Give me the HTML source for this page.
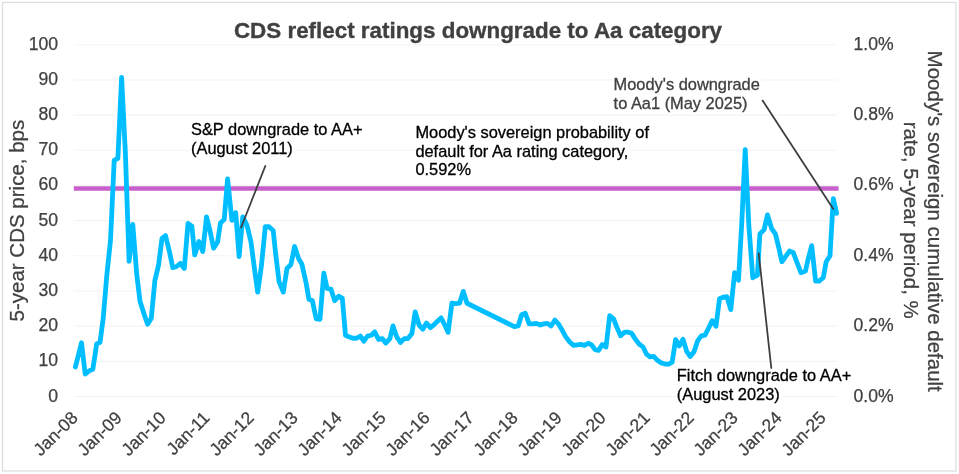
<!DOCTYPE html>
<html><head><meta charset="utf-8"><title>CDS reflect ratings downgrade to Aa category</title>
<style>
html,body{margin:0;padding:0;background:#fff;}
body{width:959px;height:474px;overflow:hidden;}
svg{display:block;font-family:"Liberation Sans",sans-serif;}
.g line{stroke:#f4f4f4;stroke-width:1.1;}
.t{font-size:17.6px;fill:#404040;stroke:#404040;stroke-width:0.25;}
.a{font-size:16.4px;fill:#000;stroke:#000;stroke-width:0.3;}
.ax{font-size:20.5px;fill:#404040;stroke:#404040;stroke-width:0.25;}
</style></head><body>
<svg width="959" height="474" viewBox="0 0 959 474">
<rect x="0" y="0" width="959" height="474" fill="#fff"/>
<rect x="2.5" y="2.5" width="953.5" height="468.5" fill="none" stroke="#dfdfdf" stroke-width="1.3"/>
<text x="478" y="37.8" text-anchor="middle" font-size="22.4" font-weight="bold" fill="#404040" stroke="#404040" stroke-width="0.35">CDS reflect ratings downgrade to Aa category</text>
<g class="g"><line x1="74" x2="837" y1="396.50" y2="396.50"/><line x1="74" x2="837" y1="361.33" y2="361.33"/><line x1="74" x2="837" y1="326.16" y2="326.16"/><line x1="74" x2="837" y1="290.99" y2="290.99"/><line x1="74" x2="837" y1="255.82" y2="255.82"/><line x1="74" x2="837" y1="220.65" y2="220.65"/><line x1="74" x2="837" y1="185.48" y2="185.48"/><line x1="74" x2="837" y1="150.31" y2="150.31"/><line x1="74" x2="837" y1="115.14" y2="115.14"/><line x1="74" x2="837" y1="79.97" y2="79.97"/><line x1="74" x2="837" y1="44.80" y2="44.80"/></g>
<g class="t"><text x="58" y="401.50" text-anchor="end">0</text><text x="58" y="366.33" text-anchor="end">10</text><text x="58" y="331.16" text-anchor="end">20</text><text x="58" y="295.99" text-anchor="end">30</text><text x="58" y="260.82" text-anchor="end">40</text><text x="58" y="225.65" text-anchor="end">50</text><text x="58" y="190.48" text-anchor="end">60</text><text x="58" y="155.31" text-anchor="end">70</text><text x="58" y="120.14" text-anchor="end">80</text><text x="58" y="84.97" text-anchor="end">90</text><text x="58" y="49.80" text-anchor="end">100</text></g>
<g class="t"><text x="853.5" y="401.50">0.0%</text><text x="853.5" y="331.16">0.2%</text><text x="853.5" y="260.82">0.4%</text><text x="853.5" y="190.48">0.6%</text><text x="853.5" y="120.14">0.8%</text><text x="853.5" y="49.80">1.0%</text></g>
<g class="t"><text transform="translate(78.8,418.8) rotate(-45)" text-anchor="end">Jan-08</text><text transform="translate(122.8,418.8) rotate(-45)" text-anchor="end">Jan-09</text><text transform="translate(166.8,418.8) rotate(-45)" text-anchor="end">Jan-10</text><text transform="translate(210.8,418.8) rotate(-45)" text-anchor="end">Jan-11</text><text transform="translate(254.8,418.8) rotate(-45)" text-anchor="end">Jan-12</text><text transform="translate(298.8,418.8) rotate(-45)" text-anchor="end">Jan-13</text><text transform="translate(342.8,418.8) rotate(-45)" text-anchor="end">Jan-14</text><text transform="translate(386.8,418.8) rotate(-45)" text-anchor="end">Jan-15</text><text transform="translate(430.8,418.8) rotate(-45)" text-anchor="end">Jan-16</text><text transform="translate(474.8,418.8) rotate(-45)" text-anchor="end">Jan-17</text><text transform="translate(518.8,418.8) rotate(-45)" text-anchor="end">Jan-18</text><text transform="translate(562.8,418.8) rotate(-45)" text-anchor="end">Jan-19</text><text transform="translate(606.8,418.8) rotate(-45)" text-anchor="end">Jan-20</text><text transform="translate(650.8,418.8) rotate(-45)" text-anchor="end">Jan-21</text><text transform="translate(694.8,418.8) rotate(-45)" text-anchor="end">Jan-22</text><text transform="translate(738.8,418.8) rotate(-45)" text-anchor="end">Jan-23</text><text transform="translate(782.8,418.8) rotate(-45)" text-anchor="end">Jan-24</text><text transform="translate(826.8,418.8) rotate(-45)" text-anchor="end">Jan-25</text></g>
<text class="ax" transform="translate(24.4,220.6) rotate(-90)" text-anchor="middle">5-year CDS price, bps</text>
<text class="ax" transform="translate(928.4,221.2) rotate(90)" text-anchor="middle">Moody's sovereign cumulative default</text>
<text class="ax" transform="translate(904.3,220.2) rotate(90)" text-anchor="middle">rate, 5-year period, %</text>
<line x1="73.8" x2="838.6" y1="188.5" y2="188.5" stroke="#c860cb" stroke-width="4.5"/>
<polyline transform="translate(0,0.35)" fill="none" stroke="#00beff" stroke-width="4.8" stroke-linejoin="round" stroke-linecap="round" points="75.4,366.6 77.6,358.0 81.5,342.4 85.2,373.7 89.9,370.1 92.8,369.0 96.7,343.6 100.0,342.0 103.2,318.0 106.8,275.0 110.5,240.0 114.2,160.0 117.9,158.0 121.6,77.0 125.4,153.0 129.1,261.0 132.8,224.0 136.7,273.8 140.0,300.8 144.3,314.3 147.6,324.0 151.3,318.0 154.9,280.0 158.5,265.0 162.0,238.0 165.5,235.2 169.4,251.2 172.8,267.3 176.2,266.4 180.4,263.0 184.3,268.1 188.0,223.0 191.9,225.9 194.7,254.6 198.9,241.1 202.8,251.2 206.5,216.5 209.9,230.1 213.6,247.8 217.5,241.9 220.5,222.6 224.2,219.0 227.6,178.6 231.9,220.0 235.7,212.3 239.1,256.3 242.8,216.5 247.0,225.0 250.9,241.1 254.3,267.3 257.7,291.7 261.4,265.6 265.3,226.4 269.0,226.4 273.2,230.1 275.7,253.8 279.1,281.6 283.3,291.7 287.0,268.1 290.9,264.2 294.6,246.2 298.5,258.0 301.9,263.9 306.0,282.1 308.9,298.9 312.3,300.1 316.2,318.4 320.0,318.9 323.8,272.8 327.1,288.0 331.0,288.8 334.7,300.3 338.6,295.9 342.3,297.8 345.5,334.9 348.9,336.5 352.8,337.9 356.5,337.9 360.4,335.7 363.8,340.8 367.5,335.7 371.4,334.9 374.7,331.5 378.6,339.1 382.3,338.2 385.7,342.8 389.9,338.2 393.0,325.6 396.7,336.5 400.5,342.1 404.3,338.2 408.0,338.2 411.9,333.2 415.2,311.6 419.1,324.7 422.8,328.9 426.5,322.7 430.4,327.3 434.1,324.2 438.0,320.5 441.1,317.5 444.8,324.7 448.1,332.0 451.9,302.8 455.7,303.3 459.5,302.8 463.3,291.0 467.0,302.9 514.3,326.3 518.2,325.6 521.6,314.3 525.3,312.9 529.2,323.5 532.9,323.5 536.3,323.0 540.2,324.7 543.9,323.5 547.4,323.0 551.1,325.6 554.9,319.7 558.7,323.9 562.1,329.8 565.8,336.5 569.7,341.6 573.4,345.0 577.3,344.5 580.7,344.1 584.4,345.0 588.3,342.9 591.6,344.5 595.0,349.2 598.7,350.0 602.3,344.1 606.0,346.7 609.7,315.4 613.6,318.5 616.9,327.0 620.6,335.5 624.5,331.8 628.2,331.8 631.7,333.0 635.4,338.9 639.3,343.9 643.0,346.5 646.4,353.7 650.1,356.6 653.7,356.1 657.4,360.0 661.1,362.5 665.0,363.7 668.7,363.7 672.2,361.7 675.6,339.2 679.3,345.6 683.0,338.9 686.9,351.5 690.3,356.1 694.0,351.5 697.6,340.6 701.3,335.5 705.0,334.7 708.5,327.9 712.2,320.3 716.0,325.9 719.5,298.4 723.2,296.9 726.9,296.4 730.8,309.3 734.6,272.3 738.5,279.9 741.8,222.0 745.2,149.3 748.9,226.0 752.8,277.4 757.4,274.9 759.9,233.5 764.1,229.3 767.5,214.5 771.7,228.4 775.4,233.5 778.7,247.0 781.9,261.4 785.7,256.0 789.5,250.7 793.2,252.1 797.0,262.0 800.9,272.3 805.5,270.6 808.3,258.0 811.7,245.3 815.6,280.8 819.0,280.8 823.2,277.4 826.2,261.4 830.0,255.4 833.3,198.3 836.6,213.0"/>
<g stroke="#3c4043" stroke-width="1.8" stroke-linecap="round">
<line x1="265.3" y1="166" x2="241.1" y2="227.5"/>
<line x1="762.6" y1="100.6" x2="833.3" y2="208.9"/>
<line x1="758.7" y1="253.4" x2="771.3" y2="368"/>
</g>
<g class="a">
<rect x="190" y="142" width="106" height="16" fill="#fff" stroke="none"/>
<text x="191" y="135">S&amp;P downgrade to AA+</text>
<text x="191" y="154">(August 2011)</text>
<rect x="415" y="144" width="215" height="16" fill="#fff" stroke="none"/>
<text x="415.4" y="137.7">Moody's sovereign probability of</text>
<text x="415.4" y="156.7">default for Aa rating category,</text>
<text x="415.4" y="175">0.592%</text>
<rect x="676" y="386" width="106" height="17" fill="#fff" stroke="none"/>
<text x="676.8" y="380.5">Fitch downgrade to AA+</text>
<text x="676.8" y="399.5">(August 2023)</text>
<rect x="613" y="75" width="148" height="38" fill="#fff" stroke="none"/>
<text x="613.6" y="89.6" fill="#404040" stroke="#404040">Moody's downgrade</text>
<text x="613.6" y="109.4" fill="#404040" stroke="#404040">to Aa1 (May 2025)</text>
</g>
</svg>
</body></html>
